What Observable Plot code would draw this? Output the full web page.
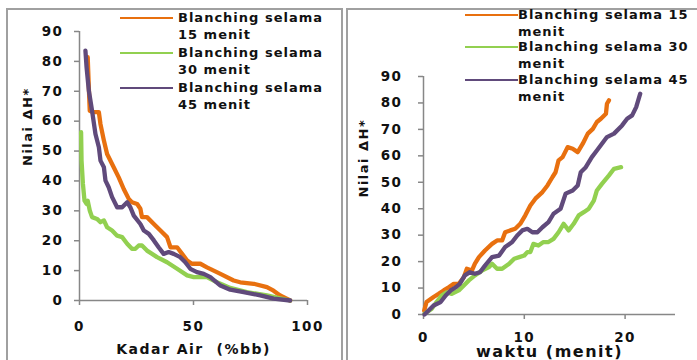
<!DOCTYPE html>
<html>
<head>
<meta charset="utf-8">
<script src="https://cdn.jsdelivr.net/npm/d3@7"></script>
<script src="https://cdn.jsdelivr.net/npm/@observablehq/plot@0.6"></script>
<style>
  html, body { margin: 0; padding: 0; background: #fff; }
  #wrap { position: relative; width: 697px; height: 360px; overflow: hidden; font-family: "DejaVu Sans", sans-serif; }
  .frame { position: absolute; border: 2px solid #a0a0a0; box-sizing: border-box; }
  .panel { position: absolute; top: 0; }
  .leg { position: absolute; font-weight: bold; font-size: 13px; letter-spacing: 1px; color: #111; line-height: 17px; white-space: nowrap; }
  .sw { position: absolute; height: 0; border-top: 2.5px solid; }
</style>
</head>
<body>
<div id="wrap">
  <div class="frame" style="left:6px; top:8px; width:337px; height:400px;"></div>
  <div class="frame" style="left:346px; top:8px; width:400px; height:400px;"></div>
  <div class="panel" id="left" style="left:0px;"></div>
  <div class="panel" id="right" style="left:345px;"></div>
  <div id="legL"></div>
  <div id="legR"></div>
</div>
<script>
// ---------- Series names and colours ----------
const seriesNames = ["Blanching selama 15 menit", "Blanching selama 30 menit", "Blanching selama 45 menit"];
const seriesColors = ["#E8700F", "#92D050", "#604A7B"];

// ---------- Left panel: Kadar Air (%bb) vs Nilai ΔH* ----------
const kadar15 = [3.6, 4.1, 4.5, 6.0, 8.5, 9.2, 10.7, 12.1, 15.0, 17.2, 19.4, 21.6, 23.0, 25.3, 26.7, 27.4, 29.6, 32.6, 35.5, 38.4, 39.9, 42.8, 45.0, 47.2, 49.3, 53.0, 55.9, 61.8, 67.6, 70.5, 76.4, 82.2, 85.1, 88.0, 92.4];
const dh15L   = [81.4, 71.0, 63.5, 63.0, 63.0, 59.0, 53.5, 49.0, 44.6, 41.2, 37.3, 34.0, 32.9, 32.3, 30.7, 27.9, 27.9, 25.6, 23.4, 21.2, 17.8, 17.8, 15.6, 13.4, 12.3, 12.3, 11.1, 8.9, 6.7, 6.1, 5.6, 4.5, 3.3, 1.7, 0];

const kadar30 = [0.7, 0.9, 1.5, 2.2, 3.1, 3.6, 4.5, 5.5, 7.7, 9.2, 10.7, 12.1, 14.3, 16.5, 18.7, 20.9, 23.0, 24.5, 26.0, 27.4, 29.6, 34.0, 38.4, 42.8, 47.2, 50.1, 53.0, 55.9, 60.3, 66.1, 73.4, 82.2, 92.4];
const dh30L   = [56.3, 46.8, 39.0, 33.4, 32.3, 33.4, 30.1, 27.9, 27.3, 26.2, 26.8, 24.5, 23.4, 21.7, 21.2, 19.0, 17.3, 17.3, 18.4, 18.4, 16.7, 14.5, 12.8, 10.6, 8.4, 7.8, 7.8, 7.8, 6.1, 4.2, 2.8, 1.7, 0];

const kadar45 = [2.6, 3.1, 4.1, 5.5, 7.0, 8.5, 9.2, 10.7, 11.4, 12.8, 14.3, 16.5, 18.7, 20.9, 22.3, 23.8, 26.7, 28.2, 30.4, 32.6, 34.7, 36.9, 39.1, 41.3, 44.2, 46.4, 48.6, 51.5, 54.5, 57.4, 61.8, 66.1, 72.0, 79.3, 85.1, 92.4];
const dh45L   = [83.6, 78.0, 70.2, 63.5, 55.7, 51.3, 46.8, 44.6, 40.1, 37.9, 34.6, 31.2, 31.2, 32.9, 31.2, 28.4, 25.6, 23.4, 22.3, 20.1, 17.8, 15.6, 16.2, 15.6, 14.5, 12.8, 10.6, 9.5, 8.9, 7.8, 5.0, 3.6, 2.8, 1.7, 0.6, 0];

// ---------- Right panel: waktu (menit) vs Nilai ΔH* ----------
const waktu15 = [0.07, 0.3, 1.0, 1.5, 2.0, 2.5, 3.0, 3.5, 4.0, 4.3, 4.8, 5.1, 5.5, 6.1, 6.8, 7.3, 7.8, 8.1, 8.6, 9.1, 9.6, 10.1, 10.6, 11.1, 11.8, 12.3, 12.8, 13.1, 13.4, 13.8, 14.3, 14.8, 15.3, 15.8, 16.3, 16.8, 17.2, 17.6, 18.1, 18.2, 18.4];
const dh15R   = [1.5, 4.7, 6.6, 7.8, 9.1, 10.3, 11.6, 11.6, 14.1, 17.3, 16.6, 19.2, 21.7, 24.2, 26.7, 28.0, 28.0, 31.1, 31.8, 32.4, 34.3, 37.5, 41.2, 43.8, 46.3, 48.8, 52.0, 53.8, 58.3, 59.5, 63.3, 62.7, 61.4, 64.6, 68.4, 70.2, 72.8, 74.0, 75.9, 79.7, 81.0];

const waktu30 = [0.1, 0.8, 1.3, 1.8, 2.3, 2.8, 3.5, 4.0, 4.5, 5.1, 5.8, 6.5, 6.8, 7.3, 7.8, 8.5, 9.0, 9.5, 10.0, 10.3, 10.6, 10.9, 11.4, 11.9, 12.4, 12.9, 13.4, 13.9, 14.4, 14.9, 15.4, 15.9, 16.4, 16.9, 17.2, 17.7, 18.4, 18.9, 19.6];
const dh30R   = [0.3, 2.1, 4.7, 7.2, 8.4, 7.8, 9.1, 11.0, 12.9, 14.8, 16.6, 17.9, 19.2, 17.3, 17.3, 19.2, 21.1, 21.7, 22.3, 23.6, 23.6, 26.7, 26.1, 27.4, 27.4, 28.6, 31.1, 34.3, 31.8, 34.3, 37.5, 38.7, 40.0, 43.1, 46.9, 49.4, 52.6, 55.1, 55.7];

const waktu45 = [0.1, 0.5, 1.0, 1.7, 2.2, 2.7, 3.2, 3.6, 4.1, 4.6, 5.1, 5.6, 6.1, 6.8, 7.5, 8.1, 8.8, 9.3, 9.8, 10.3, 10.8, 11.3, 11.8, 12.4, 12.9, 13.6, 14.1, 14.8, 15.3, 15.6, 16.1, 16.7, 17.2, 17.7, 18.2, 18.9, 19.7, 20.2, 20.7, 21.1, 21.5];
const dh45R   = [0, 1.5, 3.4, 4.7, 7.2, 9.1, 10.3, 11.6, 14.8, 16.0, 15.4, 16.0, 18.5, 21.7, 22.3, 25.5, 27.4, 29.9, 31.8, 32.4, 31.1, 31.1, 33.0, 34.9, 38.1, 40.0, 45.7, 46.9, 48.8, 53.8, 55.7, 59.5, 62.0, 64.6, 67.1, 68.4, 71.5, 74.0, 75.3, 78.4, 83.5];

// ---------- Axis ticks ----------
const yTicks = [0, 10, 20, 30, 40, 50, 60, 70, 80, 90];
const xTicksLeft = [0, 50, 100];
const xTicksRight = [0, 10, 20];

function rows(xs, ys, s) { return xs.map((x, i) => ({x, y: ys[i], s})); }
const leftData = [
  ...rows(kadar15, dh15L, seriesNames[0]),
  ...rows(kadar30, dh30L, seriesNames[1]),
  ...rows(kadar45, dh45L, seriesNames[2])
];
const rightData = [
  ...rows(waktu15, dh15R, seriesNames[0]),
  ...rows(waktu30, dh30R, seriesNames[1]),
  ...rows(waktu45, dh45R, seriesNames[2])
];

const axisColor = "#878787";
const font = "DejaVu Sans";

function panel({data, width, height, mL, mT, mB, mR, xDomain, xTicks, xLabel, xLabelDy, xLabelSize, yLabelDx, yLabelDy, yPad, xPad}) {
  return Plot.plot({
    width, height,
    marginLeft: mL, marginTop: mT, marginBottom: mB, marginRight: mR,
    style: {fontFamily: font, background: "transparent", overflow: "visible", letterSpacing: "1.5px"},
    x: {domain: xDomain},
    y: {domain: [0, 90]},
    color: {domain: seriesNames, range: seriesColors},
    marks: [
      Plot.ruleX([xDomain[0]], {stroke: axisColor, strokeWidth: 1.5}),
      Plot.ruleY([0], {stroke: axisColor, strokeWidth: 1.5}),
      Plot.axisY(yTicks, {tickSize: 5, tickPadding: yPad, stroke: axisColor, strokeWidth: 1.5, fontSize: 13.5, fontWeight: "bold", fill: "#111", label: null}),
      Plot.axisX(xTicks, {tickSize: 5, tickPadding: xPad, stroke: axisColor, strokeWidth: 1.5, fontSize: 13.5, fontWeight: "bold", fill: "#111", label: null}),
      Plot.line(data, {x: "x", y: "y", z: "s", stroke: "s", strokeWidth: 4.3, strokeLinejoin: "round", strokeLinecap: "round"}),
      Plot.text([xLabel], {frameAnchor: "bottom", dy: xLabelDy, fontSize: xLabelSize, fontWeight: "bold", fill: "#111", lineAnchor: "middle"}),
      Plot.text(["Nilai ΔH*"], {frameAnchor: "left", dx: yLabelDx, dy: yLabelDy, rotate: -90, fontSize: 13, fontWeight: "bold", fill: "#111", lineAnchor: "middle", style: "letter-spacing:0"})
    ]
  });
}

document.getElementById("left").append(panel({
  data: leftData, width: 345, height: 360, mL: 79, mT: 31, mB: 60, mR: 38,
  xDomain: [0, 100], xTicks: xTicksLeft, xLabel: "Kadar Air  (%bb)", xLabelDy: 49, xLabelSize: 14,
  yLabelDx: -52, yLabelDy: 0, yPad: 11, xPad: 16
}));
document.getElementById("right").append(panel({
  data: rightData, width: 352, height: 360, mL: 78, mT: 76, mB: 46, mR: 22,
  xDomain: [0, 25], xTicks: xTicksRight, xLabel: "waktu (menit)", xLabelDy: 37, xLabelSize: 16,
  yLabelDx: -60, yLabelDy: 2, yPad: 16, xPad: 13
}));

// ---------- Legends ----------
function legend(el, items) {
  const host = document.getElementById(el);
  items.forEach(it => {
    const sw = document.createElement("div");
    sw.className = "sw";
    sw.style.left = it.sx + "px"; sw.style.top = (it.y - 1) + "px"; sw.style.width = it.sw + "px";
    sw.style.borderTopColor = it.color;
    host.append(sw);
    const t = document.createElement("div");
    t.className = "leg";
    t.style.left = it.tx + "px"; t.style.top = (it.y - 9) + "px";
    t.innerHTML = it.lines.join("<br>");
    host.append(t);
  });
}
legend("legL", [
  {sx: 120, sw: 53, tx: 178, y: 18, color: seriesColors[0], lines: ["Blanching selama", "15 menit"]},
  {sx: 120, sw: 53, tx: 178, y: 53, color: seriesColors[1], lines: ["Blanching selama", "30 menit"]},
  {sx: 120, sw: 53, tx: 178, y: 88, color: seriesColors[2], lines: ["Blanching selama", "45 menit"]}
]);
legend("legR", [
  {sx: 465, sw: 53, tx: 518, y: 15, color: seriesColors[0], lines: ["Blanching selama 15", "menit"]},
  {sx: 465, sw: 53, tx: 518, y: 47, color: seriesColors[1], lines: ["Blanching selama 30", "menit"]},
  {sx: 465, sw: 53, tx: 518, y: 80, color: seriesColors[2], lines: ["Blanching selama 45", "menit"]}
]);
</script>
</body>
</html>
